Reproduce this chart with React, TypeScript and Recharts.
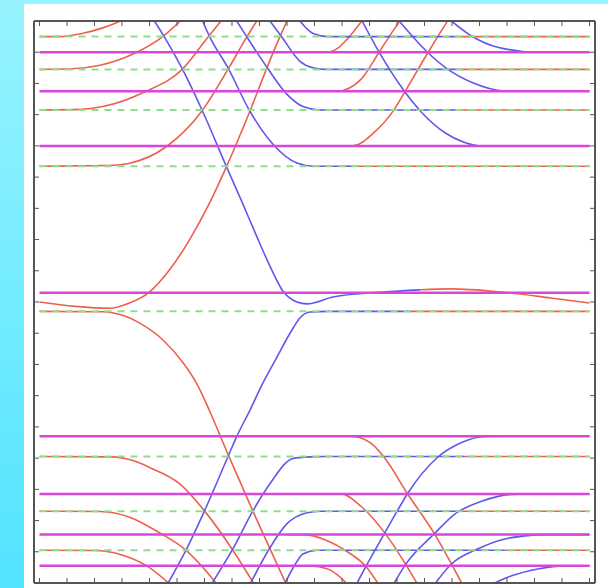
import React from 'react';
import { LineChart, Line, XAxis, YAxis } from 'recharts';

type Pt = [number, number];

// frame ticks
const xTicks = Array.from({ length: 21 }, (_, i) => i);
const yTicks = Array.from({ length: 19 }, (_, i) => i);

// flat levels (two ladders, slightly offset)
const greenLevels = [17.5, 16.45, 15.15, 13.35, 8.7, 4.05, 2.3, 1.05];
const magentaLevels = [17.0, 15.75, 14.0, 9.3, 4.7, 2.85, 1.55, 0.55];

// red branches leaving a level upwards
const redUpA: Pt[] = [[0, 17.5], [0.7, 17.5], [1.55, 17.6], [2.3, 17.78], [2.95, 18]];
const redUpB: Pt[] = [[0, 16.45], [1.2, 16.47], [2.2, 16.58], [3.4, 16.94], [4.47, 17.49], [5.12, 18]];
const redUpC: Pt[] = [[0, 15.15], [1.5, 15.17], [2.3, 15.26], [3.8, 15.72], [5.2, 16.46], [6.13, 17.49], [6.6, 18]];
const redUpD: Pt[] = [[0, 13.35], [2.5, 13.37], [3.2, 13.43], [4.62, 13.98], [5.9, 15.11], [6.88, 16.49], [7.54, 17.49], [7.9, 18]];
const redUpE: Pt[] = [[0, 9.0], [1.3, 8.86], [2.54, 8.8], [3.27, 8.97], [4.0, 9.32], [4.73, 10.03], [5.46, 11.0], [6.19, 12.18], [6.75, 13.24], [7.65, 15.11], [8.27, 16.5], [8.74, 17.49], [9.0, 18]];
const redUpF: Pt[] = [[10.0, 17.0], [10.46, 17.0], [10.85, 17.13], [11.19, 17.42], [11.72, 18]];
const redUpG: Pt[] = [[10.3, 15.75], [10.82, 15.75], [11.7, 16.14], [12.35, 17.0], [12.83, 17.65], [13.1, 18]];
const redUpH: Pt[] = [[10.9, 14.0], [11.37, 14.0], [12.17, 14.43], [12.9, 15.17], [13.3, 15.75], [14.1, 16.95], [14.84, 18]];

// red branches leaving a level downwards
const redDownI: Pt[] = [[0, 8.7], [2.3, 8.69], [3.0, 8.58], [3.63, 8.33], [4.47, 7.8], [5.2, 7.08], [5.71, 6.4], [6.19, 5.5], [6.84, 4.15], [7.76, 2.3], [8.38, 1.1], [8.95, 0]];
const redDownJ: Pt[] = [[0, 4.05], [2.6, 4.04], [3.4, 3.92], [4.0, 3.7], [5.09, 3.18], [6.0, 2.31], [7.0, 1.09], [7.78, 0]];
const redDownK: Pt[] = [[0, 2.3], [2.2, 2.29], [3.3, 2.1], [4.38, 1.6], [5.3, 1.07], [6.3, 0.13], [6.42, 0]];
const redDownL: Pt[] = [[0, 1.05], [2.0, 1.04], [3.0, 0.9], [3.9, 0.55], [4.7, 0]];
const redDownM: Pt[] = [[10.8, 4.7], [11.33, 4.7], [12.06, 4.47], [12.54, 4.02], [13.38, 2.86], [14.36, 1.58], [14.98, 0.61], [15.35, 0]];
const redDownN: Pt[] = [[10.4, 2.85], [10.97, 2.85], [11.7, 2.45], [12.6, 1.55], [13.3, 0.62], [13.72, 0]];
const redDownO: Pt[] = [[9.0, 1.55], [9.6, 1.55], [10.4, 1.38], [11.2, 1.0], [11.9, 0.5], [12.3, 0]];
const redDownP: Pt[] = [[9.0, 0.55], [9.85, 0.55], [10.46, 0.46], [10.97, 0.16], [11.15, 0]];

// blue branches coming in from the top and settling on a level
const blueDownA: Pt[] = [[4.18, 18], [4.54, 17.49], [5.16, 16.52], [5.93, 15.11], [6.81, 13.31], [7.39, 12.15], [7.9, 11.1], [8.38, 10.15], [8.85, 9.35], [9.36, 9.0], [9.73, 8.94], [10.67, 9.16], [12.5, 9.32], [13.85, 9.39]];
const blueDownB: Pt[] = [[5.93, 18], [6.19, 17.49], [6.84, 16.52], [7.65, 15.11], [8.49, 14.05], [9.36, 13.45], [9.95, 13.35], [11.45, 13.35]];
const blueDownC: Pt[] = [[7.17, 18], [7.54, 17.49], [8.27, 16.52], [9.0, 15.65], [9.58, 15.26], [10.2, 15.15], [15.2, 15.15]];
const blueDownD: Pt[] = [[8.38, 18], [8.81, 17.49], [9.47, 16.71], [9.95, 16.5], [10.4, 16.45], [15.3, 16.45]];
const blueDownE: Pt[] = [[9.47, 18], [9.95, 17.6], [10.5, 17.5], [15.1, 17.5]];
const blueDownF: Pt[] = [[11.73, 18], [12.35, 17.0], [13.27, 15.75], [13.89, 15.08], [14.73, 14.43], [15.46, 14.11], [16.19, 13.99], [17.0, 14.0], [20, 14.0]];
const blueDownG: Pt[] = [[13.08, 18], [14.11, 17.0], [14.84, 16.46], [15.71, 16.04], [16.92, 15.76], [17.6, 15.75], [20, 15.75]];
const blueDownH: Pt[] = [[14.98, 18], [15.71, 17.52], [16.66, 17.16], [18.12, 17.0], [20, 17.0]];

// blue branches coming in from the bottom and settling on a level
const blueUpI: Pt[] = [[4.68, 0], [5.35, 1.09], [6.0, 2.31], [6.84, 4.02], [7.17, 4.69], [7.65, 5.53], [8.12, 6.4], [8.63, 7.23], [9.11, 8.0], [9.47, 8.49], [9.84, 8.68], [10.5, 8.7], [13.49, 8.7]];
const blueUpJ: Pt[] = [[6.28, 0], [7.03, 1.09], [7.76, 2.31], [8.38, 3.18], [9.22, 3.99], [9.84, 4.04], [10.3, 4.05], [15.46, 4.05]];
const blueUpK: Pt[] = [[7.68, 0], [8.38, 1.13], [9.0, 1.9], [9.73, 2.25], [10.2, 2.3], [15.31, 2.3]];
const blueUpL: Pt[] = [[8.93, 0], [9.3, 0.6], [9.58, 0.93], [10.09, 1.05], [10.4, 1.05], [16.92, 1.05]];
const blueUpM: Pt[] = [[11.55, 0], [11.92, 0.61], [12.54, 1.58], [13.01, 2.31], [13.38, 2.86], [14.47, 4.02], [15.35, 4.5], [16.19, 4.69], [17.0, 4.7], [20, 4.7]];
const blueUpN: Pt[] = [[12.9, 0], [13.3, 0.58], [14.36, 1.58], [15.09, 2.2], [16.08, 2.62], [17.17, 2.84], [17.8, 2.85], [20, 2.85]];
const blueUpO: Pt[] = [[14.4, 0], [14.98, 0.61], [15.93, 1.09], [16.92, 1.41], [17.65, 1.51], [18.4, 1.55], [20, 1.55]];
const blueUpP: Pt[] = [[16.55, 0], [17.17, 0.23], [18.12, 0.45], [19.11, 0.55], [20, 0.55]];

// where the settled blue branches turn red again
const redTails: Pt[][] = [
  [[13.85, 9.39], [14.95, 9.42], [16.77, 9.32], [18.59, 9.13], [20, 8.97]],
  [[11.45, 13.35], [20, 13.35]],
  [[15.2, 15.15], [20, 15.15]],
  [[15.3, 16.45], [20, 16.45]],
  [[15.1, 17.5], [20, 17.5]],
  [[13.49, 8.7], [20, 8.7]],
  [[15.46, 4.05], [20, 4.05]],
  [[15.31, 2.3], [20, 2.3]],
  [[16.92, 1.05], [20, 1.05]],
];

const redCurves = [
  redUpA, redUpB, redUpC, redUpD, redUpE, redUpF, redUpG, redUpH,
  redDownI, redDownJ, redDownK, redDownL, redDownM, redDownN, redDownO, redDownP,
  ...redTails,
];
const blueCurves = [
  blueDownA, blueDownB, blueDownC, blueDownD, blueDownE, blueDownF, blueDownG, blueDownH,
  blueUpI, blueUpJ, blueUpK, blueUpL, blueUpM, blueUpN, blueUpO, blueUpP,
];

const RED = '#ee5f4e';
const BLUE = '#6357ea';
const MAGENTA = '#d947d9';
const GREEN = '#8ddf8a';
const FRAME = '#555';

const rows = (pts: Pt[]) => pts.map(([x, y]) => ({ x, y }));
const across = (y: number) => [{ x: xTicks[0], y }, { x: xTicks[xTicks.length - 1], y }];
const blank = () => '';

const axisStyle = {
  type: 'number' as const,
  tickFormatter: blank,
  mirror: true,
  tickSize: 5,
  allowDataOverflow: true,
  axisLine: { stroke: FRAME, strokeWidth: 2 },
  tickLine: { stroke: FRAME },
};

const App = () => {
  return (
    <div
      style={{
        position: 'absolute',
        left: 0,
        top: 0,
        width: 608,
        height: 588,
        background: 'linear-gradient(180deg, #97f3ff 0%, #74ecff 50%, #52e3ff 100%)',
        overflow: 'hidden',
      }}
    >
      <div style={{ position: 'absolute', left: 24, top: 4, width: 584, height: 584, background: '#fff' }}>
        <div style={{ filter: 'blur(0.45px)' }}>
          <LineChart width={584} height={584} margin={{ top: 17, right: 13, bottom: 5, left: 10 }}>
            <XAxis {...axisStyle} dataKey="x" domain={[-0.2, 20.2]} ticks={xTicks} height={1} />
            <XAxis {...axisStyle} xAxisId="top" orientation="top" dataKey="x" domain={[-0.2, 20.2]} ticks={xTicks} height={1} />
            <YAxis {...axisStyle} domain={[0, 18]} ticks={yTicks} width={1} />
            <YAxis {...axisStyle} yAxisId="right" orientation="right" domain={[0, 18]} ticks={yTicks} width={1} />

            {/* keeps the top and right frame axes in use */}
            <Line
              xAxisId="top"
              yAxisId="right"
              data={across(greenLevels[0])}
              dataKey="y"
              stroke="none"
              dot={false}
              activeDot={false}
              isAnimationActive={false}
            />

            {redCurves.map((c, i) => (
              <Line
                key={`red-${i}`}
                data={rows(c)}
                dataKey="y"
                type="monotone"
                stroke={RED}
                strokeWidth={1.6}
                dot={false}
                activeDot={false}
                isAnimationActive={false}
              />
            ))}
            {blueCurves.map((c, i) => (
              <Line
                key={`blue-${i}`}
                data={rows(c)}
                dataKey="y"
                type="monotone"
                stroke={BLUE}
                strokeWidth={1.6}
                dot={false}
                activeDot={false}
                isAnimationActive={false}
              />
            ))}
            {magentaLevels.map((y, i) => (
              <Line
                key={`mag-${i}`}
                data={across(y)}
                dataKey="y"
                stroke={MAGENTA}
                strokeWidth={2.5}
                dot={false}
                activeDot={false}
                isAnimationActive={false}
              />
            ))}
            {greenLevels.map((y, i) => (
              <Line
                key={`grn-${i}`}
                data={across(y)}
                dataKey="y"
                stroke={GREEN}
                strokeWidth={2}
                strokeDasharray="7 6"
                dot={false}
                activeDot={false}
                isAnimationActive={false}
              />
            ))}
          </LineChart>
        </div>
      </div>
    </div>
  );
};

export default App;
